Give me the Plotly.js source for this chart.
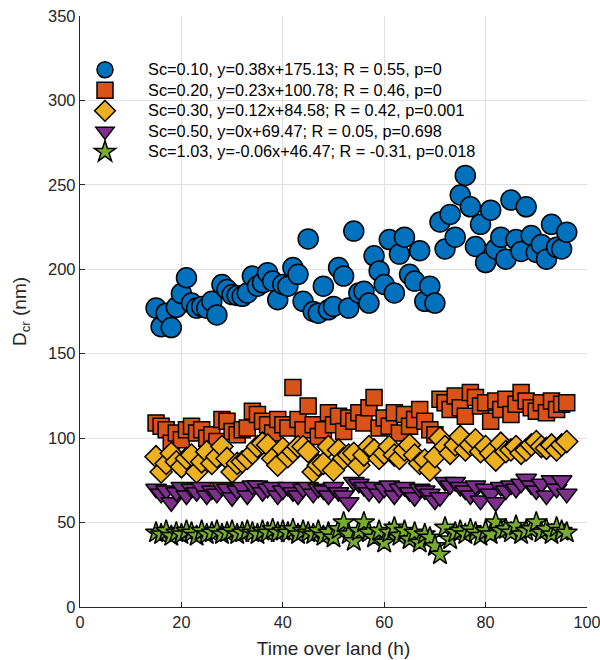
<!DOCTYPE html>
<html>
<head>
<meta charset="utf-8">
<script src="https://cdn.plot.ly/plotly-3.0.1.min.js"></script>
<style>html,body{margin:0;padding:0;background:#fff}#chart{width:600px;height:660px}</style>
</head>
<body>
<div id="chart"></div>
<script>
// Time over land (h)
const hours = [15,16,17,18,19,20,21,22,23,24,25,26,27,28,29,30,31,32,33,34,35,36,37,38,39,40,41,42,43,44,45,46,47,48,49,50,51,52,53,54,55,56,57,58,59,60,61,62,63,64,65,66,67,68,69,70,71,72,73,74,75,76,77,78,79,80,81,82,83,84,85,86,87,88,89,90,91,92,93,94,95,96];

// D_cr (nm) per Sc
const sc010 = [177,166,174,165.5,177.5,185.6,195,180,177,178,177,181,173,191,188,185,184.5,184,186,196,190,192,198,193,182,191,190,201,197,181,218,175,174,190,176,178,201,196,177,222.6,186,187,180,208,199,191,217.6,186,209,219,197,193,211,181,190,180,228,212,232.5,219,244,255.6,237,213.5,226.6,204,235,212,219,206,241,217.6,210.6,237,220,210,214.7,206,226.6,213,212,222];
const sc020 = [109,107,105,97,103,99,105,107,103,105,100,102,98,111,110,104,102,105,106,116,114,110,108,103,111,108,106,130,111,105,119,108,101,105,115,108,113,104,112,110,115,109,118,124,106,112,107,115,103,114,107,111,117,110,105,102,123,121,117,125,118,113,127,124,119,121,110,122,117,123,114,120,127,122,118,116,121,115,122,117,120,121];
const sc030 = [89,80,85,91,86,83,88,90,80,86,92,85,89,95,88,80,85,86,88,91,95,97,96,88,84,94,89,92,95,95,92,80,84,85,95,81,93,88,90,91,84,90,95,93,88,91,95,90,88,93,96,90,85,87,81,89,100,95,91,96,101,93,96,99,92,95,91,87,97,92,93,95,91,93,96,98,95,94,96,93,96,98];
const sc050 = [70,67,69,62,68,71,66,70,68,71,66,69,67,71,70,65,69,71,66,72,72,68,70,71,66,69,71,68,66,70,71,67,70,69,66,71,68,66,62,74,73,71,68,71,67,70,72,66,70,71,68,65,70,69,67,63,65,74,72,74,71,69,66,72,63,70,67,62,71,69,72,70,73,76,72,69,73,66,75,70,75,67];
const sc103 = [44,43,45,42,44,43,45,44,42,45,43,44,45,43,44,45,43,44,45,44,43,45,44,46,44,45,44,46,43,45,44,43,45,42,44,41,46,50,43,39,45,50,44,41,45,38,44,47,42,45,40,44,38,43,41,36,31,47,40,44,45,43,46,44,42,45,43,50,45,46,44,48,43,45,46,50,44,46,43,47,45,44];

const seriesNames = [
  'Sc=0.10, y=0.38x+175.13; R = 0.55, p=0',
  'Sc=0.20, y=0.23x+100.78; R = 0.46, p=0',
  'Sc=0.30, y=0.12x+84.58; R = 0.42, p=0.001',
  'Sc=0.50, y=0x+69.47; R = 0.05, p=0.698',
  'Sc=1.03, y=-0.06x+46.47; R = -0.31, p=0.018'
];
const seriesData = [sc010, sc020, sc030, sc050, sc103];
const colors = ['#0072BD','#D95319','#EDB120','#7E2F8E','#77AC30'];
const symbols = ['circle','square','diamond','triangle-down','star'];
const sizes = [20,16,17,18,16];

const traces = seriesData.map((ys, i) => ({
  type: 'scatter',
  mode: 'markers',
  x: hours,
  y: ys,
  name: '<span style="font-size:16.3px">&nbsp;&nbsp;&nbsp;&nbsp;' + seriesNames[i] + '</span>',
  marker: {symbol: symbols[i], size: sizes[i], color: colors[i], line: {color: '#000', width: 1.5}}
}));

const font = 'Liberation Sans, Arial, Helvetica, sans-serif';
const layout = {
  width: 600, height: 660,
  margin: {l: 80, r: 13.3, t: 15.5, b: 53, pad: 0},
  paper_bgcolor: '#fff', plot_bgcolor: '#fff',
  font: {family: font, color: '#262626', size: 16},
  showlegend: true,
  legend: {x: 0.0, y: 0.935, xanchor: 'left', yanchor: 'top', bgcolor: 'rgba(0,0,0,0)',
           font: {size: 13.5, color: '#000', family: font}, tracegroupgap: 0, itemwidth: 40},
  xaxis: {
    range: [0, 100], tickvals: [0,20,40,60,80,100], ticks: 'inside', ticklen: 5, tickcolor: '#262626',
    showline: true, linecolor: '#262626', linewidth: 1.2, mirror: false,
    showgrid: true, gridcolor: '#e0e0e0', gridwidth: 1, zeroline: false,
    ticklabeloverflow: 'allow',
    tickfont: {size: 16.3, color: '#262626'},
    title: {text: 'Time over land (h)', font: {size: 19, color: '#262626'}, standoff: 12}
  },
  yaxis: {
    range: [0, 350], tickvals: [0,50,100,150,200,250,300,350], ticks: 'inside', ticklen: 5, tickcolor: '#262626',
    showline: true, linecolor: '#262626', linewidth: 1.2, mirror: false,
    showgrid: true, gridcolor: '#e0e0e0', gridwidth: 1, zeroline: false,
    tickfont: {size: 16.5, color: '#262626'},
    title: {text: 'D<sub>cr</sub> (nm)', font: {size: 19, color: '#262626'}, standoff: 16}
  }
};

Plotly.newPlot('chart', traces, layout, {displayModeBar: false, staticPlot: true});
</script>
</body>
</html>
